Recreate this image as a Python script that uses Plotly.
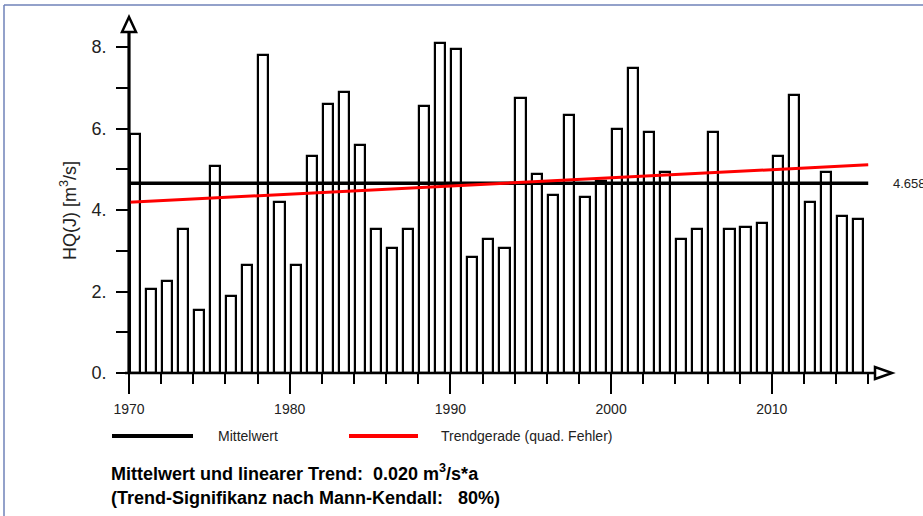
import plotly.graph_objects as go

# ---- data ----
years = list(range(1970, 2016))
hq_values = [5.87, 2.05, 2.27, 3.53, 1.55, 5.08, 1.89, 2.65, 7.80, 4.20,
             2.65, 5.33, 6.61, 6.90, 5.60, 3.53, 3.06, 3.53, 6.55, 8.10,
             7.94, 2.85, 3.28, 3.07, 6.76, 4.89, 4.36, 6.33, 4.31, 4.71,
             6.00, 7.48, 5.92, 4.94, 3.28, 3.53, 5.92, 3.53, 3.59, 3.69,
             5.33, 6.82, 4.20, 4.94, 3.86, 3.79]
mean_value = 4.658
line_years = [1970, 2016]
trend_values = [4.19, 5.11]
ytick_vals = [0, 2, 4, 6, 8]
ytick_text = ["0.", "2.", "4.", "6.", "8."]
xtick_vals = [1970, 1980, 1990, 2000, 2010]
xtick_text = ["1970", "1980", "1990", "2000", "2010"]

FONT = "Liberation Sans, Arial, sans-serif"
W, H = 923, 516
ML, MR, MT, MB = 129, 31, 17, 143
PW, PH = W - ML - MR, H - MT - MB
XPX = 16.07   # px per year
YPX = 40.75   # px per unit
x_end = 1970 + PW / XPX
y_end = PH / YPX


def px(x):
    return (x - ML) / PW


def py(y):
    return (H - MB - y) / PH


fig = go.Figure()

fig.add_trace(go.Bar(
    x=[y + 0.365 for y in years], y=hq_values, width=0.63,
    marker=dict(color="white", line=dict(color="black", width=2.2)),
    showlegend=False, hoverinfo="skip"))

fig.add_trace(go.Scatter(
    x=line_years, y=[mean_value, mean_value], mode="lines",
    line=dict(color="black", width=3.5), showlegend=False, hoverinfo="skip"))

fig.add_trace(go.Scatter(
    x=line_years, y=trend_values, mode="lines",
    line=dict(color="#ff0000", width=3), showlegend=False, hoverinfo="skip"))

# arrow geometry in paper units
ya_hw, ya_h = 7 / PW, 15 / PH
xa_hh, xa_w = 6 / PH, 17 / PW

shapes = []
# axis lines
shapes.append(dict(type="line", xref="paper", yref="paper", x0=0, x1=0,
                   y0=0, y1=1 - ya_h, line=dict(color="black", width=3.2), layer="above"))
shapes.append(dict(type="line", xref="paper", yref="paper", x0=px(125), x1=1 - xa_w,
                   y0=0, y1=0, line=dict(color="black", width=2.5), layer="above"))
# arrow heads
shapes.append(dict(type="path", xref="paper", yref="paper",
                   path=f"M {-ya_hw} {1 - ya_h} L 0 1 L {ya_hw} {1 - ya_h} Z",
                   fillcolor="white", line=dict(color="black", width=2.5), layer="above"))
shapes.append(dict(type="path", xref="paper", yref="paper",
                   path=f"M {1 - xa_w} {-xa_hh} L 1 0 L {1 - xa_w} {xa_hh} Z",
                   fillcolor="white", line=dict(color="black", width=2.5), layer="above"))
# frame border
shapes.append(dict(type="line", xref="paper", yref="paper", x0=px(4), x1=px(940),
                   y0=py(5), y1=py(5), line=dict(color="#6f82b8", width=1.5)))
shapes.append(dict(type="line", xref="paper", yref="paper", x0=px(4), x1=px(4),
                   y0=py(5), y1=py(530), line=dict(color="#6f82b8", width=1.5)))
# legend lines
shapes.append(dict(type="line", xref="paper", yref="paper", x0=px(112), x1=px(193),
                   y0=py(436), y1=py(436), line=dict(color="black", width=4)))
shapes.append(dict(type="line", xref="paper", yref="paper", x0=px(349), x1=px(418),
                   y0=py(436), y1=py(436), line=dict(color="#ff0000", width=4)))

annotations = [
    dict(xref="paper", yref="y", x=px(891), y=mean_value, text="4.658",
         showarrow=False, xanchor="left", yanchor="middle",
         font=dict(family=FONT, size=13, color="#222")),
    dict(xref="paper", yref="paper", x=px(68), y=py(211), text="HQ(J) [m<sup>3</sup>/s]",
         textangle=-90, showarrow=False, xanchor="center", yanchor="middle",
         font=dict(family=FONT, size=18, color="#222")),
    dict(xref="paper", yref="paper", x=px(216), y=py(436), text="Mittelwert",
         showarrow=False, xanchor="left", yanchor="middle",
         font=dict(family=FONT, size=14, color="#222")),
    dict(xref="paper", yref="paper", x=px(439), y=py(436), text="Trendgerade (quad. Fehler)",
         showarrow=False, xanchor="left", yanchor="middle",
         font=dict(family=FONT, size=14, color="#222")),
    dict(xref="paper", yref="paper", x=px(109), y=py(472),
         text="<b>Mittelwert und linearer Trend:  0.020 m<sup>3</sup>/s*a</b>",
         showarrow=False, xanchor="left", yanchor="middle",
         font=dict(family=FONT, size=18, color="black")),
    dict(xref="paper", yref="paper", x=px(109), y=py(498),
         text="<b>(Trend-Signifikanz nach Mann-Kendall:   80%)</b>",
         showarrow=False, xanchor="left", yanchor="middle",
         font=dict(family=FONT, size=18, color="black")),
]

fig.update_layout(
    width=W, height=H,
    margin=dict(l=ML, r=MR, t=MT, b=MB, autoexpand=False),
    paper_bgcolor="white", plot_bgcolor="white",
    shapes=shapes, annotations=annotations,
    bargap=0,
    xaxis=dict(range=[1970, x_end], showgrid=False, zeroline=False, showline=False,
               tickmode="array", tickvals=xtick_vals, ticktext=xtick_text,
               ticks="outside", ticklen=20, tickwidth=2, tickcolor="black",
               ticklabelstandoff=3,
               minor=dict(tickmode="linear", tick0=1970, dtick=2, ticks="outside",
                          ticklen=10, tickwidth=2, tickcolor="black", showgrid=False),
               tickfont=dict(family=FONT, size=14, color="#222")),
    yaxis=dict(range=[0, y_end], showgrid=False, zeroline=False, showline=False,
               tickmode="array", tickvals=ytick_vals, ticktext=ytick_text,
               ticks="outside", ticklen=12, tickwidth=2, tickcolor="black",
               ticklabelstandoff=6,
               minor=dict(tickmode="linear", tick0=0, dtick=1, ticks="outside",
                          ticklen=12, tickwidth=2, tickcolor="black", showgrid=False),
               tickfont=dict(family=FONT, size=18, color="#222")),
)

fig.write_html("out.html", config={"displayModeBar": False},
               post_script="document.body.style.margin='0';")
